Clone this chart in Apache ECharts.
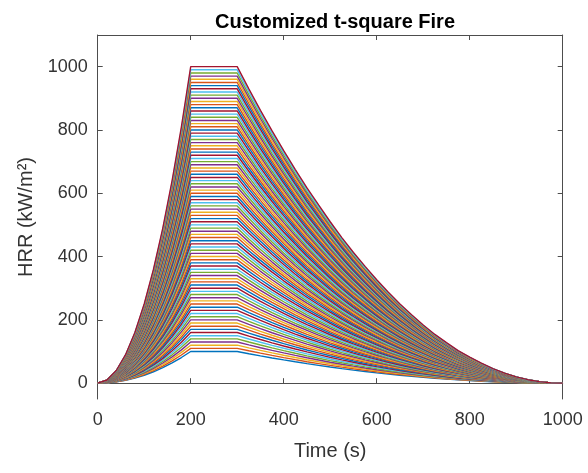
<!DOCTYPE html>
<html>
<head>
<meta charset="utf-8">
<script src="https://cdn.jsdelivr.net/npm/echarts@6/dist/echarts.min.js"></script>
<style>html,body{margin:0;padding:0;background:#fff;}#c{width:588px;height:473px;}</style>
</head>
<body>
<div id="c"></div>
<script>
// Sample times (s) along the curves
var times = [0, 20, 40, 60, 80, 100, 120, 140, 160, 180, 200, 300,
  325, 350, 375, 400, 425, 450, 475, 500, 525, 550, 575, 600, 625, 650,
  675, 700, 725, 750, 775, 800, 825, 850, 875, 900, 925, 950, 975, 1000];
// Top curve (peak 1000 kW/m2) at those times
var topCurve = [0, 10, 40, 90, 160, 250, 360, 490, 640, 810, 1000, 1000,
  930, 862, 797, 735, 675, 617, 563, 510, 460, 413, 369, 327, 287, 250,
  216, 184, 154, 128, 103, 82, 63, 46, 32, 20, 11, 5, 1, 0];
// Peak HRR of each curve (kW/m2)
var peaks = [100, 110, 120, 130, 140, 150, 160, 170, 180, 190,
  200, 210, 220, 230, 240, 250, 260, 270, 280, 290,
  300, 310, 320, 330, 340, 350, 360, 370, 380, 390,
  400, 410, 420, 430, 440, 450, 460, 470, 480, 490,
  500, 510, 520, 530, 540, 550, 560, 570, 580, 590,
  600, 610, 620, 630, 640, 650, 660, 670, 680, 690,
  700, 710, 720, 730, 740, 750, 760, 770, 780, 790,
  800, 810, 820, 830, 840, 850, 860, 870, 880, 890,
  900, 910, 920, 930, 940, 950, 960, 970, 980, 990, 1000];
var xTicks = [0, 200, 400, 600, 800, 1000];
var yTicks = [0, 200, 400, 600, 800, 1000];
var colors = ['#0072BD', '#D95319', '#EDB120', '#7E2F8E', '#77AC30', '#4DBEEE', '#A2142F'];

var series = peaks.map(function (p, k) {
  return {
    type: 'line',
    name: 'peak ' + p,
    showSymbol: false,
    symbol: 'none',
    silent: true,
    xAxisIndex: 0, yAxisIndex: 0,
    lineStyle: { width: 1.4, color: colors[k % colors.length] },
    data: times.map(function (t, i) { return [t, topCurve[i] * p / 1000]; })
  };
});

var axisCol = '#4d4d4d';
var labCol = '#333333';
var font = 'Liberation Sans, Arial, Helvetica, sans-serif';
function plain(v) { return String(v); }

var chart = echarts.init(document.getElementById('c'), null, { renderer: 'canvas' });
chart.setOption({
  animation: false,
  backgroundColor: '#fff',
  color: colors,
  title: {
    text: 'Customized t-square Fire',
    left: 330, top: 7, textAlign: 'center',
    textStyle: { fontFamily: font, fontSize: 20, fontWeight: 'bold', color: '#000' }
  },
  grid: { left: 97.7, right: 25.3, top: 35, bottom: 74, containLabel: false },
  xAxis: [{
    type: 'value', min: 0, max: 1000, interval: 200,
    name: 'Time (s)', nameLocation: 'middle', nameGap: 42,
    nameTextStyle: { fontFamily: font, fontSize: 20, color: labCol },
    axisLine: { show: true, lineStyle: { color: axisCol, width: 1 } },
    axisTick: { show: true, inside: true, length: 5, lineStyle: { color: axisCol }, customValues: xTicks },
    axisLabel: { margin: 12, fontFamily: font, fontSize: 18, color: labCol, customValues: xTicks, formatter: plain },
    splitLine: { show: false }
  }, {
    type: 'value', min: 0, max: 1000, interval: 200, position: 'top',
    axisLine: { show: true, onZero: false, lineStyle: { color: axisCol, width: 1 } },
    axisTick: { show: true, inside: true, length: 5, lineStyle: { color: axisCol }, customValues: xTicks },
    axisLabel: { show: false },
    splitLine: { show: false }
  }],
  yAxis: [{
    type: 'value', min: -50, max: 1100,
    name: 'HRR (kW/m²)', nameLocation: 'middle', nameGap: 58,
    nameTextStyle: { fontFamily: font, fontSize: 20, color: labCol },
    axisLine: { show: true, onZero: false, lineStyle: { color: axisCol, width: 1 } },
    axisTick: { show: true, inside: true, length: 5, lineStyle: { color: axisCol }, customValues: yTicks },
    axisLabel: { margin: 10, fontFamily: font, fontSize: 18, color: labCol, customValues: yTicks, formatter: plain },
    splitLine: { show: false }
  }, {
    type: 'value', min: -50, max: 1100, position: 'right',
    axisLine: { show: true, onZero: false, lineStyle: { color: axisCol, width: 1 } },
    axisTick: { show: true, inside: true, length: 5, lineStyle: { color: axisCol }, customValues: yTicks },
    axisLabel: { show: false },
    splitLine: { show: false }
  }],
  series: series
});
</script>
</body>
</html>
